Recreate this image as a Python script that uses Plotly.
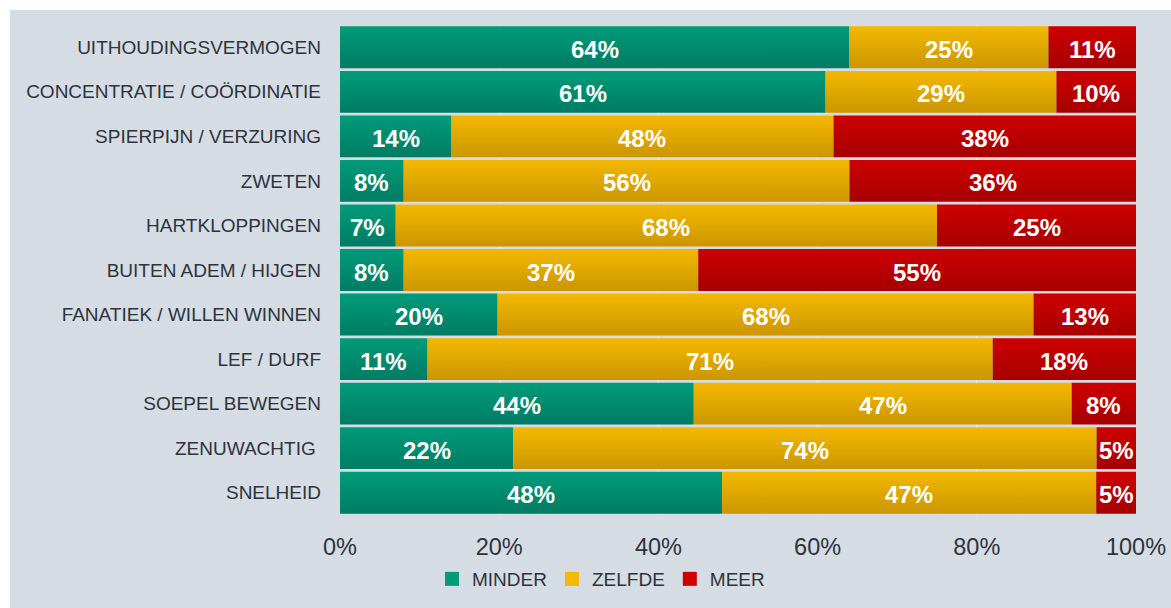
import plotly.graph_objects as go

# Survey rows (top to bottom) and share per answer
categories = [
    "UITHOUDINGSVERMOGEN",
    "CONCENTRATIE / COÖRDINATIE",
    "SPIERPIJN / VERZURING",
    "ZWETEN",
    "HARTKLOPPINGEN",
    "BUITEN ADEM / HIJGEN",
    "FANATIEK / WILLEN WINNEN",
    "LEF / DURF",
    "SOEPEL BEWEGEN",
    "ZENUWACHTIG ",
    "SNELHEID",
]
minder = [64, 61, 14, 8, 7, 8, 20, 11, 44, 22, 48]
zelfde = [25, 29, 48, 56, 68, 37, 68, 71, 47, 74, 47]
meer = [11, 10, 38, 36, 25, 55, 13, 18, 8, 5, 5]

series_names = ["MINDER", "ZELFDE", "MEER"]
x_ticks = [0, 20, 40, 60, 80, 100]
x_ticktext = ["0%", "20%", "40%", "60%", "80%", "100%"]

# (top colour, bottom colour) of the vertical gradient per series
palette = {
    "MINDER": ("#009B7A", "#007C63"),
    "ZELFDE": ("#F4B800", "#CB9600"),
    "MEER": ("#CE0000", "#A60000"),
}

FONT = "Arial, Liberation Sans, sans-serif"
W, H = 1171, 608
M_L, M_R, M_T, M_B = 340, 35, 25, 93
BAR_HALF = 0.47

n = len(categories)
ypos = [n - 1 - i for i in range(n)]  # first category on top
values = [minder, zelfde, meer]

fig = go.Figure()

label_annotations = []
for i in range(n):
    total = sum(v[i] for v in values)
    left = 0.0
    for s, vals in zip(series_names, values):
        width = vals[i] / total * 100
        right = left + width
        y = ypos[i]
        top, bottom = palette[s]
        fig.add_trace(go.Scatter(
            x=[left, right, right, left, left],
            y=[y - BAR_HALF, y - BAR_HALF, y + BAR_HALF, y + BAR_HALF, y - BAR_HALF],
            mode="lines",
            line=dict(width=0),
            fill="toself",
            fillcolor=top,
            fillgradient=dict(
                type="vertical",
                start=y - BAR_HALF,
                stop=y + BAR_HALF,
                colorscale=[[0, bottom], [1, top]],
            ),
            hoverinfo="skip",
            showlegend=False,
        ))
        # value label centred in the segment
        label_annotations.append(dict(
            x=(left + right) / 2, y=y, xref="x", yref="y",
            text=f"<b>{vals[i]}%</b>", showarrow=False,
            xanchor="center", yanchor="middle", yshift=-2,
            font=dict(family=FONT, size=24, color="white"),
        ))
        left = right

# Legend entries
for s in series_names:
    top, bottom = palette[s]
    fig.add_trace(go.Scatter(
        x=[None], y=[None],
        mode="markers",
        name=s,
        marker=dict(symbol="square", size=14, color=top, line=dict(width=0)),
        showlegend=True,
    ))

bg = "#D5DCE4"
fig.add_shape(
    type="rect", xref="paper", yref="paper",
    x0=(10 - M_L) / (W - M_L - M_R),
    x1=(W - M_L + 5) / (W - M_L - M_R),
    y0=-(M_B + 5) / (H - M_T - M_B),
    y1=1 + (M_T - 10) / (H - M_T - M_B),
    fillcolor=bg, line=dict(width=0), layer="below",
)

fig.update_layout(
    width=W, height=H,
    margin=dict(l=M_L, r=M_R, t=M_T, b=M_B, pad=0, autoexpand=False),
    paper_bgcolor="white",
    plot_bgcolor="rgba(0,0,0,0)",
    font=dict(family=FONT, color="#2E333B"),
    annotations=label_annotations,
    xaxis=dict(
        range=[0, 100],
        tickvals=x_ticks, ticktext=x_ticktext,
        tickfont=dict(size=23.5, color="#2E333B"),
        showgrid=True, gridcolor="#E4E8EE", gridwidth=1,
        zeroline=False, showline=False, ticks="",
        ticklabelstandoff=15,
        automargin=False,
        fixedrange=True,
    ),
    yaxis=dict(
        range=[-0.5, n - 0.5],
        tickvals=ypos, ticktext=categories,
        tickfont=dict(size=19, color="#2E333B"),
        showgrid=False, zeroline=False, showline=False, ticks="",
        ticklabelstandoff=18,
        automargin=False,
        fixedrange=True,
    ),
    legend=dict(
        orientation="h",
        x=(601 - M_L) / (W - M_L - M_R), xanchor="center",
        y=-(579 - (H - M_B)) / (H - M_T - M_B), yanchor="middle",
        font=dict(size=19, color="#2E333B"),
        bgcolor="rgba(0,0,0,0)",
        itemwidth=30,
    ),
    showlegend=True,
)

fig.write_html("out.html")
